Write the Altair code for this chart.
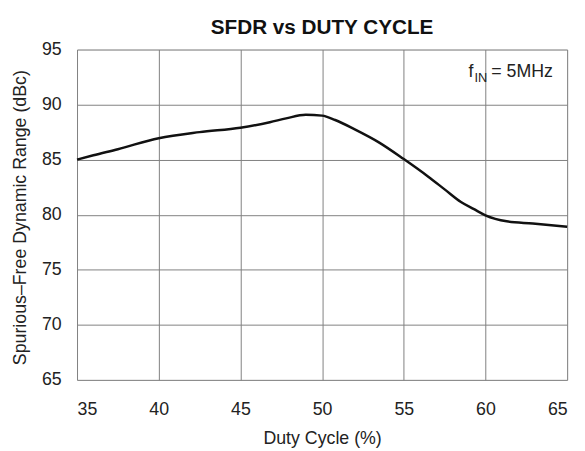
import altair as alt
import pandas as pd

duty = [35, 36, 37.5, 40, 42.5, 45, 46.8, 47.8, 49, 50, 50.8, 52, 53.5, 55, 56.5, 57.5, 58.5, 59.3, 60, 61.3, 62.9, 65]
sfdr = [85.0, 85.4, 85.95, 86.95, 87.5, 87.9, 88.4, 88.75, 89.08, 89.0, 88.6, 87.75, 86.55, 85.05, 83.45, 82.3, 81.15, 80.5, 79.95, 79.4, 79.2, 78.9]
x_ticks = [35, 40, 45, 50, 55, 60, 65]
y_ticks = [65, 70, 75, 80, 85, 90, 95]
title_text = ["SFDR vs DUTY CYCLE"]

FONT = "Liberation Sans"
df = pd.DataFrame({"duty": duty, "sfdr": sfdr})

base = alt.Chart(df)

line = base.mark_line(color="#111111", strokeWidth=2.5, interpolate="monotone").encode(
    x=alt.X("duty:Q", scale=alt.Scale(domain=[35, 65], nice=False),
            axis=alt.Axis(values=x_ticks, title="Duty Cycle (%)", grid=True, gridColor="#808080",
                          gridWidth=1, domain=False, ticks=False, tickSize=0, labelPadding=21,
                          labelFontSize=18, labelFont=FONT, labelColor="#222",
                          titleFont=FONT, titleFontSize=18, titleFontWeight="normal", titleColor="#222",
                          titleBaseline="alphabetic", titleY=65)),
    y=alt.Y("sfdr:Q", scale=alt.Scale(domain=[65, 95], nice=False),
            axis=alt.Axis(values=y_ticks, title="Spurious\u2013Free Dynamic Range (dBc)", grid=True,
                          gridColor="#808080", gridWidth=1, domain=False, ticks=False, tickSize=0,
                          labelPadding=16, labelFontSize=18, labelFont=FONT, labelColor="#222",
                          titleFont=FONT, titleFontSize=18, titleFontWeight="normal", titleColor="#222",
                          titleBaseline="alphabetic", titleX=-52, titleY=170)),
)

title = alt.Chart(pd.DataFrame({"t": title_text})).mark_text(
    font=FONT, fontSize=21, fontWeight="bold", align="center", baseline="alphabetic", color="#111"
).encode(text="t:N", x=alt.value(248.5), y=alt.value(-16))

ann_f = alt.Chart(pd.DataFrame({"t": ["f"]})).mark_text(
    font=FONT, fontSize=18, align="left", baseline="alphabetic", color="#222"
).encode(text="t:N", x=alt.value(397), y=alt.value(28))
ann_in = alt.Chart(pd.DataFrame({"t": ["IN"]})).mark_text(
    font=FONT, fontSize=13, align="left", baseline="alphabetic", color="#222"
).encode(text="t:N", x=alt.value(403), y=alt.value(33))
ann_rest = alt.Chart(pd.DataFrame({"t": ["= 5MHz"]})).mark_text(
    font=FONT, fontSize=18, align="left", baseline="alphabetic", color="#222"
).encode(text="t:N", x=alt.value(420), y=alt.value(28))

chart = alt.layer(line, title, ann_f, ann_in, ann_rest).properties(
    width=497, height=335,
    autosize=alt.AutoSizeParams(type="none"),
    padding={"left": 70, "top": 39, "right": 10, "bottom": 69},
).configure_view(stroke="#111111", strokeWidth=2.5).configure(background="white")

chart.save("out.html", embed_options={"renderer": "svg", "actions": False})
